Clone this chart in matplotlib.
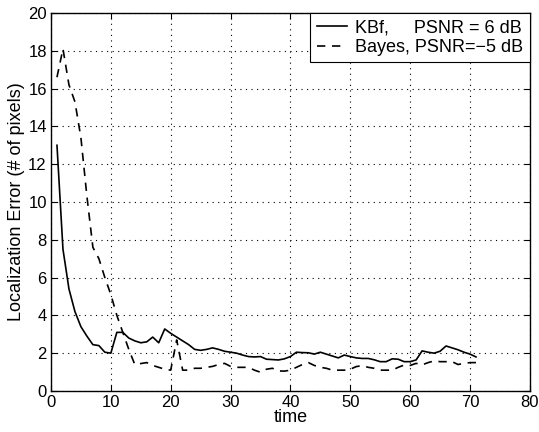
import matplotlib
matplotlib.use('Agg')
import matplotlib.pyplot as plt

# time steps
time = list(range(1, 72))

# KBf, PSNR = 6 dB
kbf = [13.0, 7.5, 5.4, 4.2, 3.4, 2.9, 2.45, 2.4, 2.05, 2.0,
       3.1, 3.1, 2.8, 2.65, 2.55, 2.6, 2.85, 2.55, 3.28, 3.05,
       2.85, 2.65, 2.45, 2.2, 2.15, 2.2, 2.28, 2.2, 2.1, 2.05,
       2.0, 1.9, 1.82, 1.8, 1.82, 1.68, 1.66, 1.64, 1.7, 1.82,
       2.05, 2.03, 2.02, 1.95, 2.05, 1.95, 1.85, 1.75, 1.9, 1.82,
       1.75, 1.72, 1.72, 1.65, 1.55, 1.55, 1.7, 1.68, 1.55, 1.55,
       1.64, 2.12, 2.05, 2.0, 2.1, 2.38, 2.28, 2.18, 2.05, 1.95,
       1.8]

# Bayes, PSNR = -5 dB
bayes = [16.6, 18.1, 16.2, 15.3, 13.4, 10.3, 7.6, 7.0, 6.0, 5.1,
         4.0, 3.1, 2.2, 1.4, 1.45, 1.5, 1.35, 1.25, 1.15, 1.1,
         2.7, 1.1, 1.1, 1.2, 1.2, 1.25, 1.3, 1.4, 1.46, 1.3,
         1.25, 1.25, 1.25, 1.1, 0.99, 1.15, 1.2, 1.06, 1.05, 1.1,
         1.25, 1.4, 1.5, 1.35, 1.25, 1.2, 1.1, 1.1, 1.1, 1.15,
         1.29, 1.34, 1.25, 1.2, 1.1, 1.1, 1.1, 1.25, 1.37, 1.35,
         1.46, 1.38, 1.5, 1.59, 1.55, 1.55, 1.55, 1.4, 1.46, 1.5,
         1.5]

xticks = [0, 10, 20, 30, 40, 50, 60, 70, 80]
yticks = [0, 2, 4, 6, 8, 10, 12, 14, 16, 18, 20]

plt.rcParams['font.family'] = ['Liberation Sans', 'DejaVu Sans']

fig = plt.figure(figsize=(5.39, 4.32), dpi=100)
ax = fig.add_axes([0.0946, 0.095, 0.8884, 0.875])

ax.plot(time, kbf, '-k', linewidth=1.2, label='KBf,     PSNR = 6 dB')
ax.plot(time, bayes, '--k', linewidth=1.2, dashes=(5, 4), label='Bayes, PSNR=\u22125 dB')

ax.set_xlim(0, 80)
ax.set_ylim(0, 20)
ax.set_xticks(xticks)
ax.set_yticks(yticks)
ax.grid(True, linestyle=(0, (1, 4)), color='k', linewidth=0.8)
ax.tick_params(direction='in', top=True, right=True, length=4, labelsize=12, pad=3)
for s in ax.spines.values():
    s.set_linewidth(1.0)

ax.set_xlabel('time', fontsize=13, labelpad=-1)
ax.set_ylabel('Localization Error (# of pixels)', fontsize=13, labelpad=2)

leg = ax.legend(loc='upper right', borderaxespad=0, fancybox=False,
                framealpha=1, edgecolor='k', fontsize=13, handlelength=1.7,
                handletextpad=0.45, borderpad=0.35, labelspacing=0.15)
leg.get_frame().set_linewidth(0.8)

plt.savefig('out.png', dpi=100)
